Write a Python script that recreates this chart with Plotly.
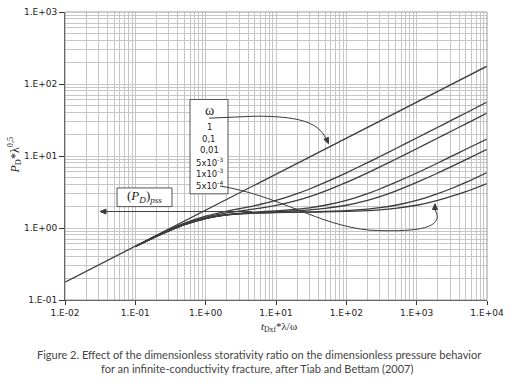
import plotly.graph_objects as go

# ---------------- data ----------------
x_w1 = [0.01, 0.1, 1, 10, 100, 1000, 10000]
y_w1 = [0.177, 0.56, 1.77, 5.6, 17.7, 56, 177]

x_t = [0.1, 0.2, 0.3, 0.5, 1, 2, 3, 5, 10, 20, 30, 50, 100, 200, 300, 500,
       1000, 2000, 3000, 5000, 10000]
y_w01 = [0.556, 0.785, 0.95, 1.17, 1.465, 1.71, 1.85, 2.04, 2.41, 3.0, 3.48,
         4.29, 5.84, 8.09, 9.83, 12.6, 17.8, 25.1, 30.7, 39.6, 56.0]
y_w005 = [0.553, 0.78, 0.935, 1.144, 1.41, 1.62, 1.715, 1.84, 2.06, 2.42, 2.72,
          3.25, 4.29, 5.84, 7.05, 9.0, 12.6, 17.8, 21.7, 28.0, 39.6]
y_w001 = [0.553, 0.769, 0.917, 1.116, 1.365, 1.537, 1.60, 1.66, 1.73, 1.83, 1.91,
          2.07, 2.42, 3.0, 3.48, 4.29, 5.8, 8.0, 9.7, 12.4, 17.2]
y_w0005 = [0.553, 0.766, 0.914, 1.113, 1.36, 1.527, 1.587, 1.636, 1.683, 1.738,
           1.784, 1.872, 2.07, 2.42, 2.72, 3.25, 4.29, 5.8, 7.0, 8.9, 12.4]
y_w0001 = [0.553, 0.765, 0.912, 1.11, 1.355, 1.519, 1.575, 1.617, 1.645, 1.664,
           1.675, 1.697, 1.742, 1.83, 1.914, 2.07, 2.42, 3.0, 3.48, 4.29, 5.9]
y_w00005 = [0.553, 0.765, 0.912, 1.11, 1.355, 1.518, 1.574, 1.615, 1.641, 1.654,
            1.661, 1.674, 1.697, 1.742, 1.787, 1.872, 2.071, 2.42, 2.72, 3.2, 4.15]

x_tickvals = [0.01, 0.1, 1, 10, 100, 1000, 10000]
x_ticktext = ["1.E-02", "1.E-01", "1.E+00", "1.E+01", "1.E+02", "1.E+03", "1.E+04"]
y_tickvals = [0.1, 1, 10, 100, 1000]
y_ticktext = ["1.E-01", "1.E+00", "1.E+01", "1.E+02", "1.E+03"]

omega_labels = ["1", "0,1", "0,01", "5x10<sup>-3</sup>", "1x10<sup>-3</sup>",
                "5x10<sup>-4</sup>"]

caption = ["Figure 2. Effect of the dimensionless storativity ratio on the dimensionless pressure behavior",
           "for an infinite-conductivity fracture, after Tiab and Bettam (2007)"]

# ---------------- layout helpers ----------------
W, H = 515, 387
L, R, T, B = 65, 487, 7, 300
LINE = "#3c3c3c"
GRID = "#c6c6c6"


def px(x):
    return (x - L) / (R - L)


def py(y):
    return (B - y) / (B - T)


fig = go.Figure()
fig.add_trace(go.Scatter(x=x_w1, y=y_w1, mode="lines",
                         line=dict(color=LINE, width=1.3), showlegend=False))
for ys in [y_w01, y_w005, y_w001, y_w0005, y_w0001, y_w00005]:
    fig.add_trace(go.Scatter(x=x_t, y=ys, mode="lines",
                             line=dict(color=LINE, width=1.3, shape="spline",
                                       smoothing=0.8),
                             showlegend=False))

minor_vals = [k * 10 ** e for e in range(-2, 4) for k in range(2, 10)]
minor_y = [k * 10 ** e for e in range(-1, 3) for k in range(2, 10)]

fig.update_xaxes(type="log", range=[-2, 4], tickvals=x_tickvals, ticktext=x_ticktext,
                 showgrid=True, gridcolor=GRID, gridwidth=1,
                 minor=dict(tickvals=minor_vals, showgrid=True, gridcolor=GRID,
                            gridwidth=1, ticks=""),
                 ticks="outside", ticklen=4, tickcolor="#333",
                 showline=True, linecolor="#333", linewidth=1, zeroline=False,
                 tickfont=dict(family="DejaVu Sans", size=9, color="#222"))
fig.update_yaxes(type="log", range=[-1, 3], tickvals=y_tickvals, ticktext=y_ticktext,
                 showgrid=True, gridcolor=GRID, gridwidth=1,
                 minor=dict(tickvals=minor_y, showgrid=True, gridcolor=GRID,
                            gridwidth=1, ticks=""),
                 ticks="outside", ticklen=5, tickcolor="#333",
                 showline=True, linecolor="#333", linewidth=1, zeroline=False,
                 tickfont=dict(family="DejaVu Sans", size=9, color="#222"))


def P(x, y):
    return f"{px(x):.5f},{py(y):.5f}"


def path(cmd, fill=None):
    d = dict(type="path", xref="paper", yref="paper", path=cmd,
             line=dict(color=LINE, width=1), layer="above")
    if fill:
        d["fillcolor"] = fill
    return d


shapes = []
shapes.append(dict(type="rect", xref="paper", yref="paper", x0=0, y0=0, x1=1, y1=1,
                   line=dict(color="#9a9a9a", width=1)))
shapes.append(dict(type="rect", xref="paper", yref="paper",
                   x0=px(190), y0=py(192), x1=px(228), y1=py(96),
                   line=dict(color="#555", width=1), fillcolor="white", layer="above"))
shapes.append(dict(type="rect", xref="paper", yref="paper",
                   x0=px(117), y0=py(205), x1=px(172), y1=py(186),
                   line=dict(color="#555", width=1), fillcolor="white", layer="above"))
shapes.append(path(f"M{P(209,115)} L{P(255,113)} C{P(296,113)} {P(318,118)} {P(326,136)}"))
shapes.append(path(f"M{P(328.5,141)} L{P(323.8,136.5)} L{P(328.4,134.5)} Z", fill=LINE))
shapes.append(path(f"M{P(220,184)} C{P(280,194)} {P(318,224)} {P(370,229)} "
                   f"C{P(412,231)} {P(440,228)} {P(437,213)} L{P(435,208)}"))
shapes.append(path(f"M{P(435,202)} L{P(432.5,208)} L{P(437.5,208)} Z", fill=LINE))
shapes.append(path(f"M{P(252,210)} L{P(105,210)}"))
shapes.append(path(f"M{P(100,210)} L{P(106,207.5)} L{P(106,212.5)} Z", fill=LINE))
fig.update_layout(shapes=shapes)


def A(x, y, text, font, **kw):
    d = dict(xref="paper", yref="paper", x=px(x), y=py(y), text=text, showarrow=False,
             xanchor="center", yanchor="middle", font=font)
    d.update(kw)
    return d


ann = []
ann.append(A(209, 107, "ω", dict(family="Liberation Serif", size=14, color="#222")))
for i, t in enumerate(omega_labels):
    ann.append(A(209, 124 + i * 11.8, t, dict(family="DejaVu Sans", size=8.5, color="#222")))
ann.append(A(144.5, 195, "(<i>P</i><sub><i>D</i></sub>)<sub><i>pss</i></sub>",
             dict(family="Liberation Serif", size=13, color="#222")))
ann.append(A(279, 327, "<i>t</i><sub>Dxf</sub>*λ/ω",
             dict(family="Liberation Serif", size=11, color="#222")))
ann.append(A(15, 153, "<i>P</i><sub>D</sub>*λ<sup>0,5</sup>",
             dict(family="Liberation Serif", size=12, color="#222"), textangle=-90))
ann.append(A(258.5, 355, caption[0], dict(family="Lato", size=11, color="#444")))
ann.append(A(257, 370, caption[1], dict(family="Lato", size=11, color="#444")))

fig.update_layout(annotations=ann, width=W, height=H,
                  margin=dict(l=L, r=W - R, t=T, b=H - B),
                  paper_bgcolor="white", plot_bgcolor="white")

fig.write_html("out.html", config={"displayModeBar": False},
               post_script="document.body.style.margin='0px';document.body.style.padding='0px';")
